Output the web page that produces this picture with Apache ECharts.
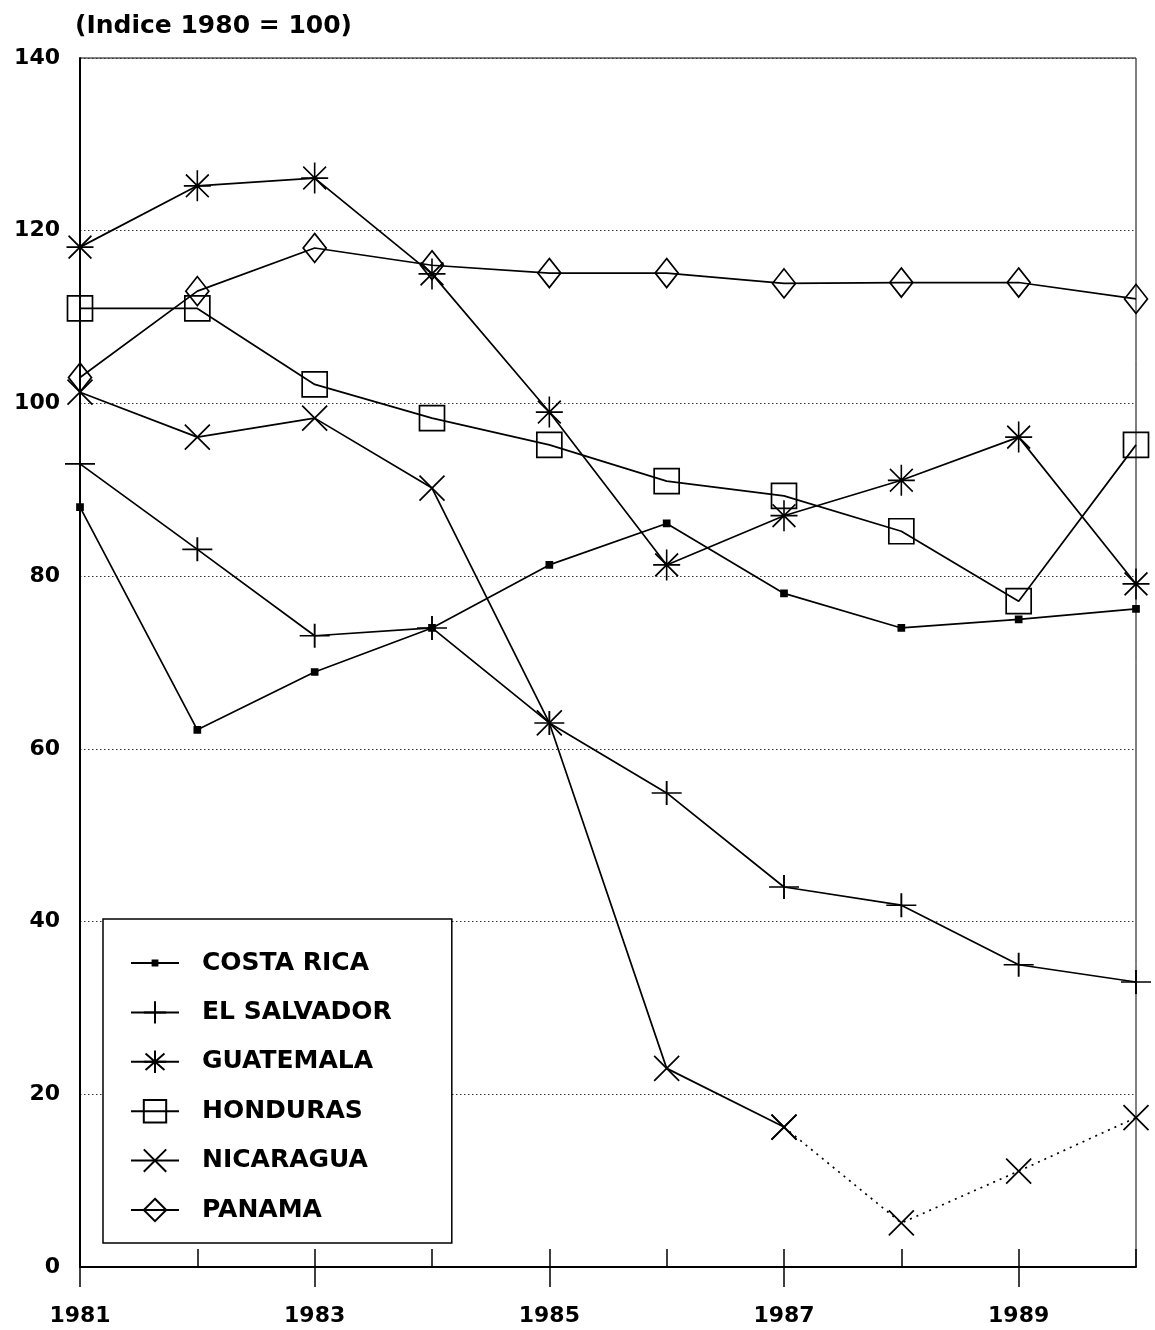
<!DOCTYPE html>
<html>
<head>
<meta charset="utf-8">
<script src="https://cdn.jsdelivr.net/npm/echarts@6/dist/echarts.min.js"></script>
<style>
html,body{margin:0;padding:0;background:#fff;}
#chart{width:1155px;height:1330px;}
</style>
</head>
<body>
<div id="chart"></div>
<script>
const years = ['1981','1982','1983','1984','1985','1986','1987','1988','1989','1990'];
const yTicks = [0,20,40,60,80,100,120,140];
const costaRica  = [88, 62.2, 68.9, 74, 81.3, 86.1, 78, 74, 75, 76.2];
const elSalvador = [93, 83.1, 73.1, 74, 63, 54.9, 44, 41.9, 35, 33];
const guatemala  = [118.1, 125.2, 126.1, 115, 99, 81.3, 87, 91.1, 96.1, 79.1];
const honduras   = [111, 111, 102.2, 98.3, 95.2, 91, 89.3, 85.2, 77.1, 95.2];
const nicaragua  = [101.3, 96.1, 98.3, 90.2, 63, 23, 16.2, 5.1, 11.1, 17.3];
const panama     = [103, 113, 118, 116, 115.1, 115.1, 113.9, 114, 114, 112.1];
const names = ['COSTA RICA','EL SALVADOR','GUATEMALA','HONDURAS','NICARAGUA','PANAMA'];
const nicaraguaSolidUntil = 6; // index of 1987

const FONT = '"DejaVu Sans", sans-serif';
const sym = {
  cr: 'path://M0,0 M28,28 M11,11 L17,11 L17,17 L11,17 Z',
  plus: 'path://M0,12 L30,12 M15,0 L15,24',
  ast: 'path://M13,0 L13,30 M0,15 L26,15 M2,4 L24,26 M2,26 L24,4',
  sq: 'path://M0,0 L24,0 L24,24 L0,24 Z',
  x: 'path://M0,0 L24,24 M0,24 L24,0',
  dia: 'path://M11,0 L22,14 L11,28 L0,14 Z'
};

function mk(name, data, symbol, size, fill, lineType) {
  return {
    name: name, type: 'line', data: data,
    symbol: symbol, symbolSize: size, showAllSymbol: true,
    lineStyle: {color: '#000', width: 1.7, type: lineType || 'solid'},
    itemStyle: {color: fill, borderColor: '#000', borderWidth: 1.7},
    emphasis: {disabled: true},
    animation: false, connectNulls: false
  };
}

const nicSolid = nicaragua.map((v, i) => i <= nicaraguaSolidUntil ? v : null);
const nicDot = nicaragua.map((v, i) => i >= nicaraguaSolidUntil ? v : null);

const series = [
  mk(names[0], costaRica, sym.cr, 28, '#000'),
  mk(names[1], elSalvador, sym.plus, [30,24], 'transparent'),
  mk(names[2], guatemala, sym.ast, [27,31], 'transparent'),
  mk(names[3], honduras, sym.sq, 25, 'transparent'),
  mk(names[4], nicSolid, sym.x, 25, 'transparent'),
  mk(names[5], panama, sym.dia, [23,29], 'transparent'),
  mk(names[4], nicDot, sym.x, 25, 'transparent', [2,5])
];

const chart = echarts.init(document.getElementById('chart'), null, {renderer: 'canvas'});
chart.setOption({
  backgroundColor: '#fff',
  animation: false,
  title: {
    text: '(Indice 1980 = 100)', left: 70, top: 9,
    textStyle: {fontFamily: FONT, fontWeight: 'bold', fontSize: 25, color: '#000'}
  },
  grid: {left: 80, right: 19, top: 58, bottom: 63, show: true, borderColor: '#000', borderWidth: 1, backgroundColor: 'transparent'},
  legend: {
    data: names, orient: 'vertical', left: 103, top: 919,
    padding: [30, 60, 19, 27],
    itemWidth: 48, itemHeight: 28, itemGap: 21.4,
    backgroundColor: '#fff', borderColor: '#000', borderWidth: 1.5,
    selectedMode: false,
    textStyle: {fontFamily: FONT, fontWeight: 'bold', fontSize: 25, color: '#000', lineHeight: 28, padding: [0,0,0,18]}
  },
  xAxis: [{
    type: 'category', data: years, boundaryGap: false,
    axisLine: {show: true, lineStyle: {color: '#000', width: 2}},
    axisTick: {show: true, inside: true, length: 18, interval: 0, lineStyle: {color: '#000', width: 1.5}},
    axisLabel: {interval: 1, margin: 38, fontFamily: FONT, fontWeight: 'bold', fontSize: 22, color: '#000'},
    splitLine: {show: false}
  }, {
    type: 'category', data: years, boundaryGap: false, position: 'bottom',
    axisLine: {show: false},
    axisTick: {show: true, inside: false, length: 20, interval: 1, lineStyle: {color: '#000', width: 1.5}},
    axisLabel: {show: false},
    splitLine: {show: false}
  }],
  yAxis: {
    type: 'value', min: yTicks[0], max: yTicks[yTicks.length-1], interval: 20,
    axisLine: {show: true, lineStyle: {color: '#000', width: 2}},
    axisTick: {show: false},
    axisLabel: {margin: 20, fontFamily: FONT, fontWeight: 'bold', fontSize: 22, color: '#000'},
    splitLine: {show: true, lineStyle: {color: '#333', width: 1, type: [1.5, 2.5]}}
  },
  series: series
});
</script>
</body>
</html>
